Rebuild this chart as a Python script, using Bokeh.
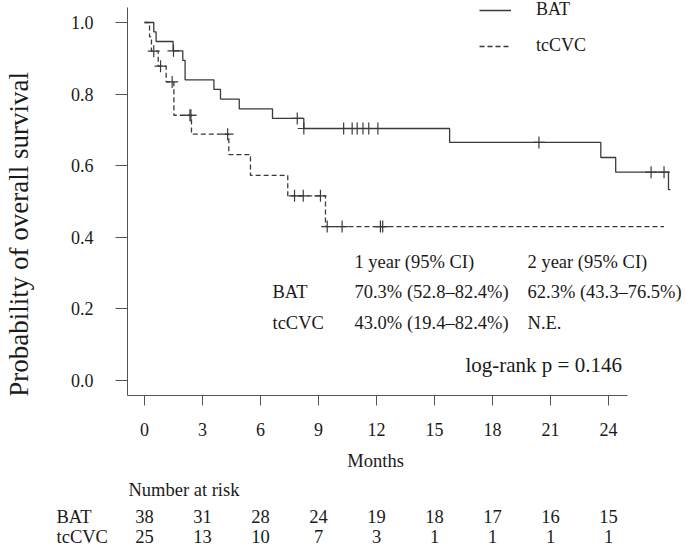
import numpy as np
from bokeh.plotting import figure
from bokeh.layouts import column, row
from bokeh.models import (Range1d, FixedTicker, ColumnDataSource, Legend, LegendItem,
                          PrintfTickFormatter)
from bokeh.core.properties import value
from bokeh.embed import file_html
from bokeh.resources import INLINE

# ---------------- data ----------------
bat_times = [0, 0.48, 0.60, 1.48, 1.98, 2.10, 3.59, 3.93, 4.90, 6.62, 8.24, 15.78, 23.60, 24.37, 27.10, 27.20]
bat_surv = [1.0, 0.974, 0.947, 0.921, 0.894, 0.840, 0.813, 0.786, 0.759, 0.732, 0.704, 0.665, 0.623, 0.582, 0.533, 0.533]
bat_censor = [1.50, 7.90, 8.24, 10.30, 10.74, 11.00, 11.30, 11.60, 12.07, 20.40, 26.20, 26.87]

cvc_times = [0, 0.26, 0.36, 0.71, 1.12, 1.52, 2.43, 4.36, 5.48, 7.41, 9.36, 26.87]
cvc_surv = [1.0, 0.960, 0.920, 0.878, 0.834, 0.741, 0.688, 0.631, 0.573, 0.516, 0.430, 0.430]
cvc_censor = [0.48, 0.83, 1.43, 2.35, 2.40, 4.30, 7.76, 8.21, 9.10, 9.45, 10.22, 12.20, 12.32]

risk_months = [0, 3, 6, 9, 12, 15, 18, 21, 24]
bat_risk = [38, 31, 28, 24, 19, 18, 17, 16, 15]
cvc_risk = [25, 13, 10, 7, 3, 1, 1, 1, 1]

y_ticks = [0.0, 0.2, 0.4, 0.6, 0.8, 1.0]
group_names = ["BAT", "tcCVC"]
ci_header = ["1 year (95% CI)", "2 year (95% CI)"]
bat_ci = ["70.3% (52.8\u201382.4%)", "62.3% (43.3\u201376.5%)"]
cvc_ci = ["43.0% (19.4\u201382.4%)", "N.E."]
pval_text = "log-rank p = 0.146"
y_title = "Probability of overall survival"
x_title = "Months"
risk_title = "Number at risk"


def surv_at(t, times, surv):
    idx = np.searchsorted(np.asarray(times), t, side="right") - 1
    return [surv[i] for i in idx]


FONT = "Liberation Serif"
TXT = "#1a1a1a"
LINE = "#3a3a3a"
AXC = "#555555"

TOP_H = 442
y_rng = Range1d(-0.0419, 1.0615)

# ---------------- main survival plot ----------------
p = figure(width=637, height=TOP_H, output_backend="svg", toolbar_location=None,
           x_range=Range1d(-0.879, 27.98), y_range=y_rng,
           min_border_left=79, min_border_right=0, min_border_top=0, min_border_bottom=47)
p.grid.visible = False
p.outline_line_color = None

p.xaxis.ticker = FixedTicker(ticks=risk_months)
p.yaxis.ticker = FixedTicker(ticks=y_ticks)
p.yaxis.formatter = PrintfTickFormatter(format="%.1f")
p.xaxis.bounds = (-0.88, 25.0)
p.yaxis.bounds = (-0.042, 1.042)
for ax in (p.xaxis, p.yaxis):
    ax.axis_line_color = AXC
    ax.major_tick_line_color = AXC
    ax.minor_tick_line_color = None
    ax.major_tick_in = 0
    ax.major_label_text_font = FONT
    ax.major_label_text_font_size = "18px"
    ax.major_label_text_color = TXT
p.xaxis.major_tick_out = 10
p.xaxis.major_label_standoff = 17
p.yaxis.major_tick_out = 12
p.yaxis.major_label_standoff = 22

src_bat = ColumnDataSource(dict(t=bat_times, s=bat_surv))
src_cvc = ColumnDataSource(dict(t=cvc_times, s=cvc_surv))
r_bat = p.step("t", "s", source=src_bat, mode="after", line_color=LINE, line_width=1.3)
r_cvc = p.step("t", "s", source=src_cvc, mode="after", line_color=LINE, line_width=1.3,
               line_dash="5 3")
p.scatter(bat_censor, surv_at(bat_censor, bat_times, bat_surv), marker="cross", size=12,
          line_color=LINE, line_width=1.2)
p.scatter(cvc_censor, surv_at(cvc_censor, cvc_times, cvc_surv), marker="cross", size=12,
          line_color=LINE, line_width=1.2)

legend = Legend(items=[LegendItem(label=group_names[0], renderers=[r_bat]),
                       LegendItem(label=group_names[1], renderers=[r_cvc])],
                location=(352, 339), border_line_color=None, background_fill_alpha=0,
                padding=0, margin=0, glyph_width=32, glyph_height=16, label_height=16,
                spacing=15, label_standoff=25, label_text_font=FONT,
                label_text_font_size="18px", label_text_color=TXT)
p.add_layout(legend)


def txt(fig, x, y, s, size="18.5px", align="left", angle=0.0):
    fig.text(x=[x], y=[y], text=[s], text_font=value(FONT), text_font_size=size,
             text_color=TXT, text_align=align, text_baseline="middle", angle=angle)


col_x = [10.86, 19.81]
for cx, h, b, c in zip(col_x, ci_header, bat_ci, cvc_ci):
    txt(p, cx, 0.330, h)
    txt(p, cx, 0.246, b)
    txt(p, cx, 0.162, c)
txt(p, 6.62, 0.246, group_names[0])
txt(p, 6.62, 0.162, group_names[1])
txt(p, 16.60, 0.042, pval_text, size="21px")

# ---------------- y-axis title panel ----------------
ty = figure(width=48, height=TOP_H, output_backend="svg", toolbar_location=None,
            x_range=Range1d(0, 48), y_range=y_rng, x_axis_type=None, y_axis_type=None,
            min_border_left=0, min_border_right=0, min_border_top=0, min_border_bottom=47)
ty.grid.visible = False
ty.outline_line_color = None
txt(ty, 18, 0.408, y_title, size="27px", align="center", angle=np.pi / 2)

# ---------------- number-at-risk table ----------------
tb = figure(width=685, height=105, output_backend="svg", toolbar_location=None,
            x_range=Range1d(-7.448, 27.98), y_range=Range1d(547, 442),
            x_axis_type=None, y_axis_type=None,
            min_border_left=0, min_border_right=0, min_border_top=0, min_border_bottom=0)
tb.grid.visible = False
tb.outline_line_color = None
txt(tb, 11.95, 460, x_title, align="center")
txt(tb, -0.83, 489, risk_title)
row_y = [516, 536]
for ry, name, vals in zip(row_y, group_names, [bat_risk, cvc_risk]):
    txt(tb, -4.55, ry, name)
    tb.text(x=risk_months, y=[ry] * len(vals), text=[str(v) for v in vals],
            text_font=value(FONT), text_font_size="18.5px", text_color=TXT,
            text_align="center", text_baseline="middle")

layout = column(row(ty, p), tb)
open("out.html", "w").write(file_html(layout, INLINE))
